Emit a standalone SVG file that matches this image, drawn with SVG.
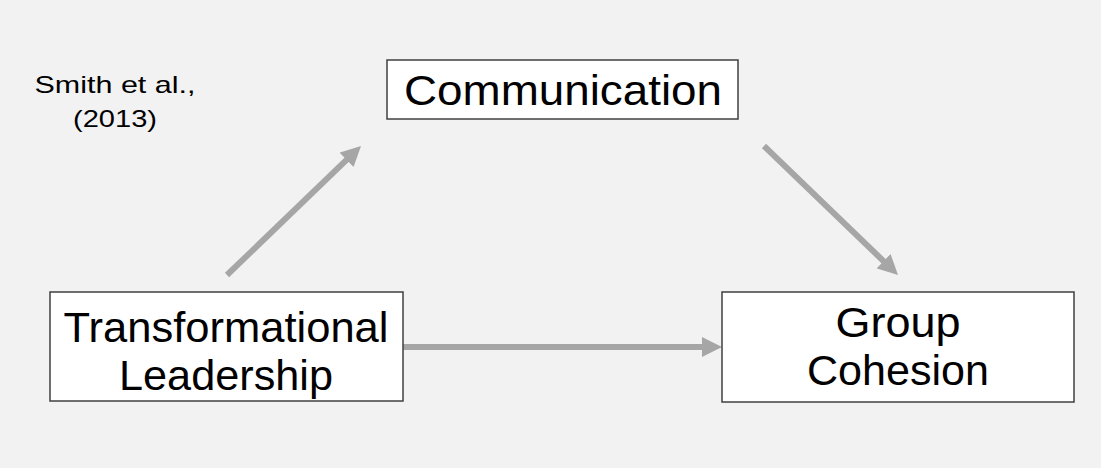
<svg xmlns="http://www.w3.org/2000/svg" width="1101" height="468" viewBox="0 0 1101 468">
  <style>
    .box { fill: #ffffff; stroke: #404040; stroke-width: 1.5; }
    .lbl { font-family: "Liberation Sans", Arial, sans-serif; font-size: 42px; fill: #000000; text-anchor: middle; }
    .cite { font-family: "Liberation Sans", Arial, sans-serif; font-size: 24px; fill: #000000; text-anchor: middle; }
    .conn { stroke: #a6a6a6; stroke-width: 6; fill: none; }
  </style>
  <defs>
    <marker id="ah" markerUnits="userSpaceOnUse" markerWidth="20" markerHeight="20" refX="10" refY="10" orient="auto">
      <path d="M0,0 L20,10 L0,20 Z" fill="#a6a6a6"/>
    </marker>
  </defs>
  <rect width="1101" height="468" fill="#f2f2f2"/>
  <g id="citation">
    <text class="cite" x="115" y="93" textLength="161" lengthAdjust="spacingAndGlyphs">Smith et al.,</text>
    <text class="cite" x="115" y="127" textLength="84" lengthAdjust="spacingAndGlyphs">(2013)</text>
  </g>
  <g id="connectors">
    <line class="conn" x1="227" y1="275" x2="353.8" y2="152.9" marker-end="url(#ah)"/>
    <line class="conn" x1="764" y1="146" x2="890.8" y2="268.1" marker-end="url(#ah)"/>
    <line class="conn" x1="403" y1="347" x2="712" y2="347" marker-end="url(#ah)"/>
  </g>
  <g id="node-communication">
    <rect class="box" x="387" y="60" width="351" height="59"/>
    <text class="lbl" x="563" y="105" textLength="318" lengthAdjust="spacingAndGlyphs">Communication</text>
  </g>
  <g id="node-transformational-leadership">
    <rect class="box" x="50" y="292" width="353" height="109"/>
    <text class="lbl" x="226" y="342" textLength="325" lengthAdjust="spacingAndGlyphs">Transformational</text>
    <text class="lbl" x="226" y="390" textLength="214" lengthAdjust="spacingAndGlyphs">Leadership</text>
  </g>
  <g id="node-group-cohesion">
    <rect class="box" x="722" y="292" width="352" height="110"/>
    <text class="lbl" x="898" y="337" textLength="125" lengthAdjust="spacingAndGlyphs">Group</text>
    <text class="lbl" x="898" y="385" textLength="182" lengthAdjust="spacingAndGlyphs">Cohesion</text>
  </g>
</svg>
